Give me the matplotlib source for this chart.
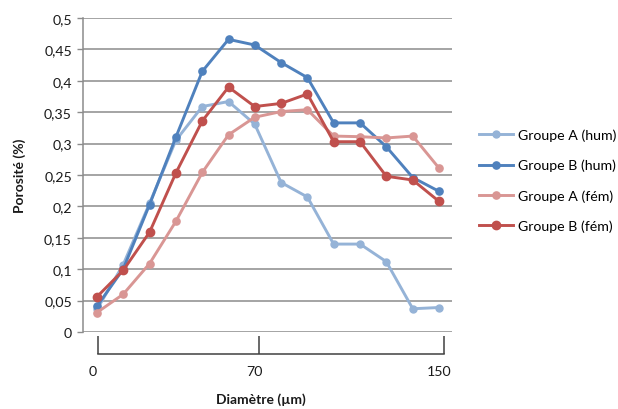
import matplotlib
matplotlib.use("Agg")
import matplotlib.pyplot as plt
import matplotlib.transforms as mtransforms

plt.rcParams['font.family'] = ['Lato', 'DejaVu Sans']

# Data
diametres = [0, 11.5, 23.1, 34.6, 46.2, 57.7, 69.2, 80.8, 92.3, 103.8, 115.4, 126.9, 138.5, 150]
groupe_a_hum = [0.036, 0.107, 0.205, 0.305, 0.359, 0.367, 0.331, 0.238, 0.215, 0.140, 0.140, 0.112, 0.037, 0.039]
groupe_b_hum = [0.041, 0.100, 0.203, 0.310, 0.415, 0.466, 0.457, 0.429, 0.405, 0.333, 0.333, 0.295, 0.246, 0.224]
groupe_a_fem = [0.031, 0.060, 0.109, 0.176, 0.254, 0.314, 0.342, 0.351, 0.354, 0.312, 0.311, 0.309, 0.312, 0.261]
groupe_b_fem = [0.056, 0.098, 0.159, 0.253, 0.336, 0.390, 0.359, 0.364, 0.379, 0.303, 0.303, 0.248, 0.242, 0.208]
series_labels = ["Groupe A (hum)", "Groupe B (hum)", "Groupe A (fém)", "Groupe B (fém)"]
y_ticks = [0, 0.05, 0.1, 0.15, 0.2, 0.25, 0.3, 0.35, 0.4, 0.45, 0.5]
y_tick_labels = ["0", "0,05", "0,1", "0,15", "0,2", "0,25", "0,3", "0,35", "0,4", "0,45", "0,5"]
x_ticks = [0, 70, 150]
x_tick_labels = ["0", "70", "150"]

W, H = 618, 410
fig = plt.figure(figsize=(W / 100, H / 100), dpi=100)

def fx(px):
    return px / W

def fy(py):
    return 1 - py / H

# Main plot area
ax = fig.add_axes([fx(83), fy(333), fx(452) - fx(83), fy(19) - fy(333)])
colors = ["#95B3D7", "#4F81BD", "#D99694", "#C0504D"]
msizes = [5.0, 5.2, 5.2, 6.0]
lines = []
for vals, lab, c, ms in zip([groupe_a_hum, groupe_b_hum, groupe_a_fem, groupe_b_fem],
                            series_labels, colors, msizes):
    ln, = ax.plot(diametres, vals, color=c, lw=2.1, marker='o', ms=ms,
                  markeredgecolor=c, label=lab, solid_joinstyle='round')
    lines.append(ln)

ax.set_ylim(0, 0.5)
ax.set_xlim(-6.1, 155.7)
ax.set_yticks(y_ticks)
ax.set_yticklabels(y_tick_labels, fontsize=10.2, color="#1a1a1a")
ax.yaxis.grid(True, color="#8c8c8c", lw=1.1)
ax.set_axisbelow(True)
ax.tick_params(axis='y', length=4, width=1, color="#8c8c8c", pad=4)
ax.set_xticks([])
for s in ['top', 'right', 'bottom']:
    ax.spines[s].set_visible(False)
ax.spines['left'].set_color("#8c8c8c")
ax.spines['left'].set_linewidth(1.1)

# Separate bracket x axis
ax2 = fig.add_axes([fx(97.7), fy(355), fx(444) - fx(97.7), 0.001])
ax2.set_xlim(0, 150)
ax2.set_ylim(0, 1)
ax2.patch.set_visible(False)
for s in ['top', 'right', 'left']:
    ax2.spines[s].set_visible(False)
ax2.spines['bottom'].set_color("#404040")
ax2.spines['bottom'].set_linewidth(1.1)
ax2.set_yticks([])
ax2.set_xticks(x_ticks)
ax2.set_xticklabels(x_tick_labels, fontsize=10.2, color="#1a1a1a")
ax2.tick_params(axis='x', direction='in', length=13, width=1.1, color="#404040", pad=8)
shift = mtransforms.ScaledTranslation(-5 / 100, 0, fig.dpi_scale_trans)
for lbl in ax2.get_xticklabels():
    lbl.set_transform(lbl.get_transform() + shift)

# Axis titles
fig.text(fx(20), fy(176), "Porosité (%)", rotation=90, ha='center', va='center',
         fontsize=10, fontweight='bold', color="#1a1a1a")
fig.text(fx(261), fy(400), "Diamètre (µm)", ha='center', va='center',
         fontsize=10, fontweight='bold', color="#1a1a1a")

# Legend
fig.legend(handles=lines, labels=series_labels, loc='upper left',
           bbox_to_anchor=(fx(473), fy(124)), frameon=False, fontsize=10.2,
           handlelength=2.4, handletextpad=0.35, labelspacing=1.25, borderaxespad=0)

fig.savefig("out.png", dpi=100)
